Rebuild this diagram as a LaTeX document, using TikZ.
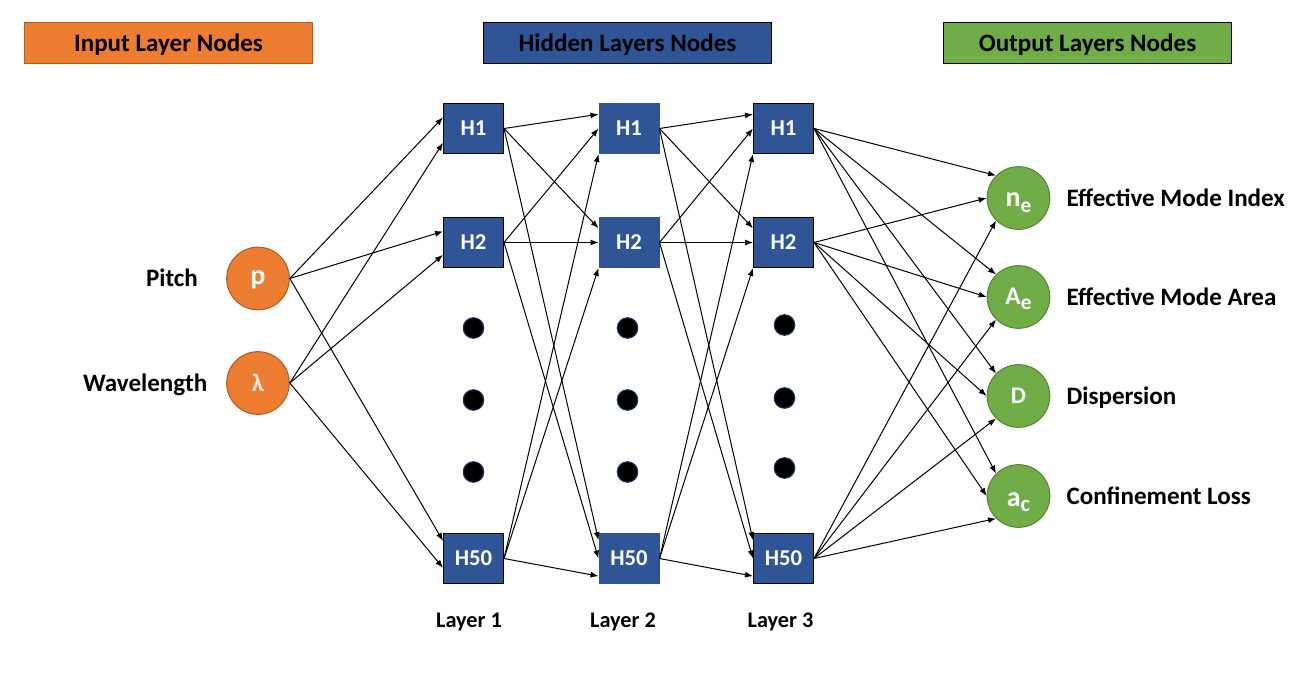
\documentclass[tikz,border=0pt]{standalone}
\usepackage{fontspec}
\setmainfont{Carlito}
\usepackage{tikz}
\usetikzlibrary{positioning}
\usetikzlibrary{arrows.meta}
\definecolor{in-orange}{RGB}{237,125,49}
\definecolor{in-orange-edge}{RGB}{174,90,33}
\definecolor{hid-blue}{RGB}{47,85,151}
\definecolor{out-green}{RGB}{112,173,71}
\definecolor{out-green-edge}{RGB}{84,130,53}
\definecolor{dot-edge}{RGB}{31,56,100}
\definecolor{lambda-gray}{RGB}{231,230,230}
\newcommand{\lowsub}[2]{\raisebox{-4.2pt}{\fontsize{#1}{18}\selectfont #2}}

\begin{document}
\begin{tikzpicture}[x=0.75pt, y=-0.75pt, node distance=21pt, >={Latex[length=6pt,width=4.5pt]},
title/.style={draw, line width=0.75pt, minimum width=216pt, minimum height=31pt, inner sep=0pt, text height=12.1pt, text depth=0pt, font=\fontsize{18.8}{22}\selectfont\bfseries},
inp/.style={circle, fill=in-orange, draw=in-orange-edge, line width=0.75pt, minimum size=47pt, inner sep=0pt, text=white, font=\fontsize{21}{24}\selectfont\bfseries},
hid/.style={rectangle, fill=hid-blue, draw=black, line width=0.75pt, minimum width=45pt, minimum height=37.5pt, inner sep=0pt, text=white, font=\fontsize{17}{20}\selectfont\bfseries},
hid2/.style={hid, draw=hid-blue},
outp/.style={circle, fill=out-green, draw=out-green-edge, line width=0.75pt, minimum size=47pt, inner sep=0pt, text=white, text depth=0pt, font=\fontsize{19}{22}\selectfont\bfseries},
dot/.style={circle, fill=black, draw=dot-edge, line width=0.75pt, minimum size=15.5pt, inner sep=0pt},
lbl/.style={inner sep=0pt, text height=12.1pt, text depth=0pt, font=\fontsize{18.8}{22}\selectfont\bfseries},
layer/.style={inner sep=0pt, text height=10.8pt, text depth=0pt, font=\fontsize{16.7}{20}\selectfont\bfseries},
edge/.style={->, line width=0.75pt}]
\useasboundingbox (0,0) rectangle (1310,681);

% titles
\node [title, fill=in-orange, draw=in-orange-edge] (tin) at (168.5,43) {Input Layer Nodes};
\node [title, fill=hid-blue] (thid) at (627.5,43) {Hidden Layers Nodes};
\node [title, fill=out-green] (tout) at (1087.5,43) {Output Layers Nodes};

% input nodes
\node [inp, text height=9pt, text depth=0pt] (p) at (258,278.5) {p};
\node [left = 21pt of p, lbl] (pl) {Pitch};
\node [inp, text=lambda-gray, text height=12.6pt, text depth=0pt, font=\fontsize{19}{22}\selectfont\bfseries] (l) at (258,383) {λ};
\node [left = 14pt of l, lbl] (ll) {Wavelength};

% hidden layer 1
\node [hid] (a1) at (473.5,128.5) {H1};
\node [hid] (a2) at (473.5,242.5) {H2};
\node [hid] (a50) at (473.5,558.5) {H50};
\node [dot] (da1) at (473.5,328) {};
\node [dot] (da2) at (473.5,400) {};
\node [dot] (da3) at (473.5,472) {};
\node [layer] (la) at (469,620) {Layer 1};

% hidden layer 2
\node [hid2] (b1) at (629,128.5) {H1};
\node [hid2] (b2) at (629,242.5) {H2};
\node [hid2] (b50) at (629,558.5) {H50};
\node [dot] (db1) at (627.5,328) {};
\node [dot] (db2) at (627.5,400) {};
\node [dot] (db3) at (627.5,472) {};
\node [layer] (lb) at (623,620) {Layer 2};

% hidden layer 3
\node [hid] (c1) at (783.5,128.5) {H1};
\node [hid] (c2) at (783.5,242.5) {H2};
\node [hid] (c50) at (783.5,558.5) {H50};
\node [dot] (dc1) at (784.5,325) {};
\node [dot] (dc2) at (784.5,398) {};
\node [dot] (dc3) at (784.5,468) {};
\node [layer] (lc) at (780.5,620) {Layer 3};

% output nodes
\node [outp, text height=13pt, font=\fontsize{21}{24}\selectfont\bfseries] (ne) at (1018.5,198) {n\lowsub{16}{e}};
\node [right = 12pt of ne, lbl] (nel) {Effective Mode Index};
\node [outp, text height=11pt] (ae) at (1018.5,297) {A\lowsub{16}{e}};
\node [right = 12pt of ae, lbl] (ael) {Effective Mode Area};
\node [outp, text height=11.6pt, font=\fontsize{18}{22}\selectfont\bfseries] (d) at (1018.5,396) {D};
\node [right = 12pt of d, lbl] (dl) {Dispersion};
\node [outp, text height=15pt, font=\fontsize{21}{24}\selectfont\bfseries] (ac) at (1018.5,496) {a\lowsub{17}{c}};
\node [right = 12pt of ac, lbl] (acl) {Confinement Loss};

% input -> layer 1
\draw [edge] (p.east) -- (a1.160);
\draw [edge] (p.east) -- (a2.160);
\draw [edge] (p.east) -- (a50.150);
\draw [edge] (l.east) -- (a1.205);
\draw [edge] (l.east) -- (a2.202);
\draw [edge] (l.east) -- (a50.197);

% layer 1 -> layer 2
\draw [edge] (a1.east) -- (b1.155);
\draw [edge] (a1.east) -- (b2.155);
\draw [edge] (a1.east) -- (b50.149);
\draw [edge] (a2.east) -- (b1.west);
\draw [edge] (a2.east) -- (b2.west);
\draw [edge] (a2.east) -- (b50.west);
\draw [edge] (a50.east) -- (b1.south west);
\draw [edge] (a50.east) -- (b2.south west);
\draw [edge] (a50.east) -- (b50.210);

% layer 2 -> layer 3
\draw [edge] (b1.east) -- (c1.155);
\draw [edge] (b1.east) -- (c2.155);
\draw [edge] (b1.east) -- (c50.149);
\draw [edge] (b2.east) -- (c1.west);
\draw [edge] (b2.east) -- (c2.west);
\draw [edge] (b2.east) -- (c50.west);
\draw [edge] (b50.east) -- (c1.south west);
\draw [edge] (b50.east) -- (c2.south west);
\draw [edge] (b50.east) -- (c50.210);

% layer 3 -> outputs
\draw [edge] (c1.east) -- (ne.135);
\draw [edge] (c1.east) -- (ae.135);
\draw [edge] (c1.east) -- (d.135);
\draw [edge] (c1.east) -- (ac.135);
\draw [edge] (c2.east) -- (ne.west);
\draw [edge] (c2.east) -- (ae.west);
\draw [edge] (c2.east) -- (d.west);
\draw [edge] (c2.east) -- (ac.west);
\draw [edge] (c50.east) -- (ne.225);
\draw [edge] (c50.east) -- (ae.225);
\draw [edge] (c50.east) -- (d.225);
\draw [edge] (c50.east) -- (ac.225);

\end{tikzpicture}
\end{document}
